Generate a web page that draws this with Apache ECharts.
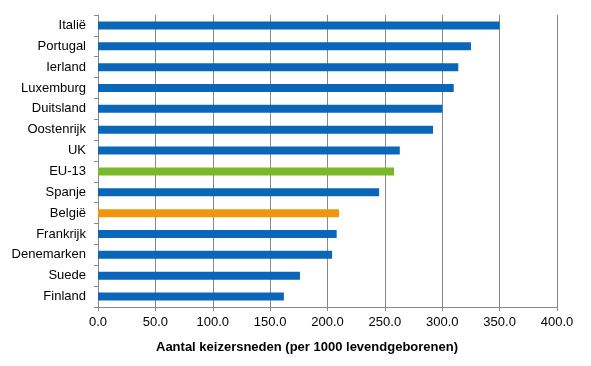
<!DOCTYPE html>
<html>
<head>
<meta charset="utf-8">
<script src="https://cdn.jsdelivr.net/npm/echarts@6/dist/echarts.min.js"></script>
<style>html,body{margin:0;padding:0;background:#fff;}#c{width:591px;height:366px;}</style>
</head>
<body>
<div id="c"></div>
<script>
const categories = ["Italië","Portugal","Ierland","Luxemburg","Duitsland","Oostenrijk","UK","EU-13","Spanje","België","Frankrijk","Denemarken","Suede","Finland"];
const values = [350, 325, 314, 310, 300, 292, 263, 258, 245, 210, 208, 204, 176, 162];
const barColors = ["#0a66b8","#0a66b8","#0a66b8","#0a66b8","#0a66b8","#0a66b8","#0a66b8","#7ab829","#0a66b8","#f0960e","#0a66b8","#0a66b8","#0a66b8","#0a66b8"];
const xTicks = [0, 50, 100, 150, 200, 250, 300, 350, 400];
const axisTitle = "Aantal keizersneden (per 1000 levendgeborenen)";

const chart = echarts.init(document.getElementById('c'), null, {renderer: 'canvas'});
const font = 'Liberation Sans, Arial, sans-serif';
chart.setOption({
  animation: false,
  backgroundColor: '#fff',
  grid: {left: 98, right: 34, top: 15, bottom: 59, containLabel: false},
  title: {
    text: axisTitle,
    left: 151, top: 336,
    textStyle: {fontFamily: font, fontSize: 13, fontWeight: 'bold', color: '#000'}
  },
  xAxis: {
    type: 'value',
    min: xTicks[0], max: xTicks[xTicks.length - 1], interval: 50,
    axisLine: {show: true, lineStyle: {color: '#888', width: 1}},
    axisTick: {show: true, length: 4, lineStyle: {color: '#888'}},
    splitLine: {show: true, lineStyle: {color: '#888', width: 1}},
    axisLabel: {
      color: '#000', fontFamily: font, fontSize: 13, margin: 9,
      formatter: v => v.toFixed(1)
    }
  },
  yAxis: {
    type: 'category',
    data: categories,
    inverse: true,
    boundaryGap: true,
    axisLine: {show: true, lineStyle: {color: '#888', width: 1}},
    axisTick: {show: true, length: 4, alignWithLabel: false, lineStyle: {color: '#888'}},
    axisLabel: {color: '#000', fontFamily: font, fontSize: 13, margin: 12}
  },
  series: [{
    type: 'bar',
    barWidth: 8,
    data: values.map((v, i) => ({value: v, itemStyle: {color: barColors[i]}}))
  }]
});
</script>
</body>
</html>
